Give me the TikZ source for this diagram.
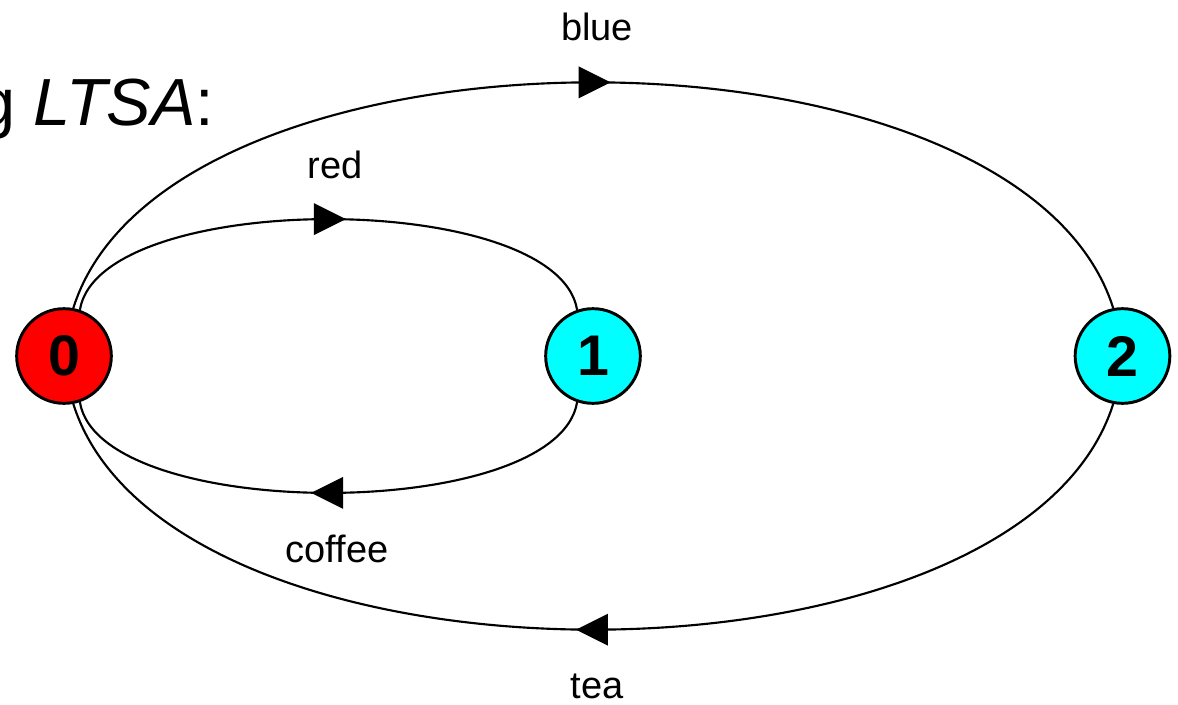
\documentclass[tikz,border=0pt]{standalone}
\usepackage{fontspec}
\setmainfont{Liberation Sans}
\usetikzlibrary{decorations.markings}

\definecolor{stateblue}{RGB}{0,255,255}
\definecolor{statered}{RGB}{255,0,0}

\tikzset{
  state/.style={circle, draw, line width=2.2pt, minimum size=71pt, inner sep=0pt, font=\fontsize{43}{43}\selectfont\bfseries},
  trans/.style={line width=1.6pt, postaction={decorate}, decoration={markings, mark=at position 0.5 with {\fill (-11pt,-12pt) -- (13pt,0pt) -- (-11pt,12pt) -- cycle;}}},
  lbl/.style={font=\fontsize{28.5}{34}\selectfont}
}

\begin{document}
\begin{tikzpicture}[x=0.75pt,y=0.75pt,yscale=-1,xscale=1]
\useasboundingbox (0,0) rectangle (1178,704);
\clip (0,0) rectangle (1178,704);

% Text Node
\draw (219,125) node [anchor=base east, font=\fontsize{50}{50}\selectfont] {using \textit{LTSA}:};

%Shape: Circle
\node [state, fill=statered] (s0) at (64,356) {0};
%Shape: Circle
\node [state, fill=stateblue] (s1) at (593,356) {1};
%Shape: Circle
\node [state, fill=stateblue] (s2) at (1122.5,356) {2};

%Curve Lines
\draw [trans] (s0.71) .. controls +(20,-121) and +(-20,-121) .. (s1.109);
%Curve Lines
\draw [trans] (s1.-109) .. controls +(-20,121) and +(20,121) .. (s0.-71);
%Curve Lines
\draw [trans] (s0.79) .. controls +(95,-301) and +(-95,-301) .. (s2.101);
%Curve Lines
\draw [trans] (s2.-101) .. controls +(-95,301) and +(95,301) .. (s0.-79);

% Text Node
\draw (335,165) node [lbl] {red};
% Text Node
\draw (597,27) node [lbl] {blue};
% Text Node
\draw (337,549) node [lbl] {coffee};
% Text Node
\draw (597,686) node [lbl] {tea};

\end{tikzpicture}
\end{document}
